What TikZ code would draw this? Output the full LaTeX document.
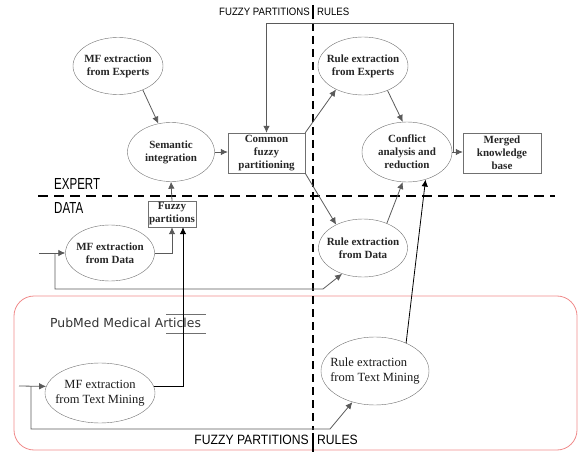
\documentclass[tikz,border=0pt]{standalone}
\usepackage{fontspec}
\setmainfont{Liberation Serif}
\newfontfamily\capfont[FakeStretch=0.72]{Liberation Sans}
\newfontfamily\headfont[FakeStretch=0.9]{Liberation Sans}
\newfontfamily\storefont{DejaVu Sans}
\usetikzlibrary{arrows.meta,
                shapes.geometric
            }

\definecolor{linegray}{HTML}{5A5A5A}
\definecolor{shapegray}{HTML}{707070}
\definecolor{boxred}{HTML}{F08A8A}

\tikzset{
    procnode/.style={ellipse, draw=shapegray, inner xsep=-8pt, inner ysep=0pt, align=center,
                     font=\bfseries\fontsize{11}{13}\selectfont, text=black!85},
    textnode/.style={procnode, font=\fontsize{12.5}{14.5}\selectfont, text=black!90},
    boxnode/.style={rectangle, draw=shapegray, inner sep=1pt, align=center,
                    font=\bfseries\fontsize{11}{13}\selectfont, text=black!85},
    flow/.style={draw=linegray, line width=0.8pt, -{Latex[length=7pt,width=6.5pt]}},
    divider/.style={line width=2.6pt, dash pattern=on 10pt off 6pt},
}

\begin{document}
\begin{tikzpicture}[x=1pt, y=-1pt]
            \useasboundingbox (0,0) rectangle (579,452);

            \draw[boxred, line width=0.8pt, rounded corners=20pt] (14,296) rectangle (577,450);

            % dividers
            \draw[divider] (38,196) -- (555,196);
            \draw[line width=2.2pt, dash pattern=on 8pt off 5pt] (313,23) -- (313,430);
            \draw[line width=1.8pt] (313,5) -- (313,19);
            \draw[line width=1.8pt] (313,433) -- (313,452);

            \node[anchor=east, inner sep=0, font=\headfont\fontsize{10.7}{12}\selectfont] (topfp) at (310,12) {FUZZY PARTITIONS};
            \node[anchor=west, inner sep=0, font=\headfont\fontsize{10.7}{12}\selectfont] (toprules) at (317,12) {RULES};
            \node[anchor=east, inner sep=0, font=\headfont\fontsize{13.5}{15}\selectfont] (botfp) at (309,440) {FUZZY PARTITIONS};
            \node[anchor=west, inner sep=0, font=\headfont\fontsize{13.5}{15}\selectfont] (botrules) at (317,440) {RULES};
            \node[anchor=west, inner sep=0, font=\capfont\fontsize{16}{18}\selectfont] (expert) at (54,184) {EXPERT};
            \node[anchor=west, inner sep=0, font=\capfont\fontsize{16}{18}\selectfont] (data) at (54,208) {DATA};

            % nodes
            \node[procnode, minimum width=90, minimum height=57] (mfexp) at (118,66) {MF extraction\\from Experts};
            \node[procnode, minimum width=87, minimum height=59] (semint) at (171,152) {Semantic\\integration};
            \node[boxnode, minimum width=77, minimum height=40] (common) at (266.5,153) {Common\\fuzzy\\partitioning};
            \node[boxnode, minimum width=48, minimum height=26] (fuzzyp) at (172,214) {Fuzzy\\partitions};
            \node[procnode, minimum width=90, minimum height=58] (ruleexp) at (363,66) {Rule extraction\\from Experts};
            \node[procnode, minimum width=90, minimum height=60] (conflict) at (407,152) {Conflict\\analysis and\\reduction};
            \node[boxnode, minimum width=78, minimum height=40] (merged) at (502,153) {Merged\\knowledge\\base};
            \node[procnode, minimum width=89, minimum height=56] (mfdata) at (110,253) {MF extraction\\from Data};
            \node[procnode, minimum width=89, minimum height=58] (ruledata) at (363,248) {Rule extraction\\from Data};
            \node[textnode, minimum width=110, minimum height=60] (mftm) at (100,393) {MF extraction\\from Text Mining};
            \node[textnode, minimum width=108, minimum height=68, align=left] (ruletm) at (375,371) {Rule extraction\\from Text Mining};
            \node[anchor=west, inner sep=0, font=\storefont\fontsize{12.4}{14}\selectfont, text=black!80] (pubmed) at (50,323) {PubMed Medical Articles};
            \draw[shapegray, line width=0.8pt] (166,314) -- (206,314);
            \draw[shapegray, line width=0.8pt] (166,333) -- (206,333);

            \coordinate (fbtop) at (453,23);
            \coordinate (datain) at (39,253);
            \coordinate (databr) at (55,253);
            \coordinate (datalow) at (323,289);
            \coordinate (tmin) at (19,386);
            \coordinate (tmbr) at (31,386);
            \coordinate (tmlow) at (330,429);

            % connectors
            \draw[flow] (mfexp.-44) -- (semint.114);
            \draw[flow] (semint.east) -- (semint.east -| common.west);
            \draw[flow] (fuzzyp.north) -- (semint.south);
            \draw[flow] (common.north east) -- (ruleexp.221);
            \draw[flow] (common.south east) -- (ruledata.139);
            \draw[flow] (ruleexp.-45) -- (conflict.98);
            \draw[flow] (ruledata.46) -- (conflict.262);
            \draw[flow, draw=black] (ruletm.42) -- (conflict.304);
            \draw[flow] (conflict.east) -- (conflict.east -| merged.west);
            \draw[flow] (conflict.east) -| (fbtop) -| (common.north);
            \draw[flow] (datain) -- (mfdata.west);
            \draw[flow] (databr) |- (datalow) -- (ruledata.231);
            \draw[flow] (mfdata.east) -| (fuzzyp.south);
            \draw[flow, draw=black] (mftm.7) -| ([xshift=11pt]fuzzyp.south);
            \draw[flow] (tmin) -- (mftm.173);
            \draw[flow] (tmbr) |- (tmlow) -- (ruletm.234);
        \end{tikzpicture}
\end{document}
